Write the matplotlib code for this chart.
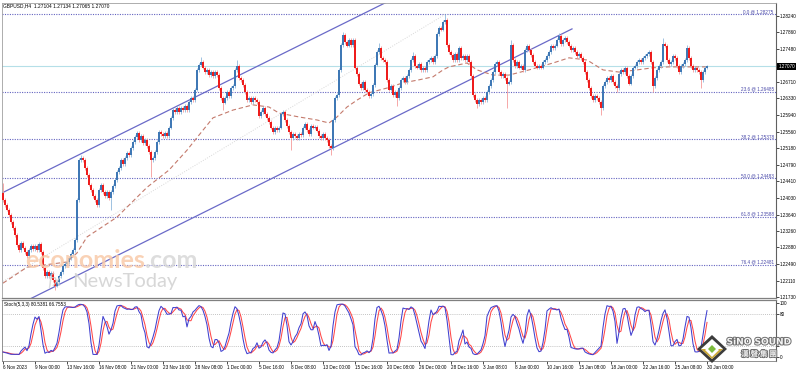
import numpy as np
import pandas as pd
import matplotlib
matplotlib.use("Agg")
import matplotlib.pyplot as plt
import matplotlib.transforms as mtransforms
import matplotlib.patheffects as pe
from matplotlib.patches import Polygon

# ---------------- data ----------------
symbol_title = "GBPUSD,H4  1.27104 1.27134 1.27065 1.27070"
stoch_title = "Stoch(5,3,3) 80.5381 66.7553"

first_open = 1.2415
closes = [
    1.2398, 1.2386, 1.2375, 1.2363, 1.2347, 1.2333, 1.2317, 1.2293, 1.2282, 1.2298,
    1.2287, 1.2277, 1.2268, 1.2282, 1.2291, 1.2284, 1.2291, 1.2282, 1.2296, 1.2277,
    1.2240, 1.2222, 1.2231, 1.2222, 1.2229, 1.2212, 1.2199, 1.2208, 1.2222, 1.2231,
    1.2245, 1.2249, 1.2254, 1.2263, 1.2273, 1.2282, 1.2305, 1.2398, 1.2490, 1.2495,
    1.2490, 1.2472, 1.2456, 1.2433, 1.2421, 1.2407, 1.2398, 1.2386, 1.2421, 1.2433,
    1.2416, 1.2407, 1.2416, 1.2402, 1.2416, 1.2430, 1.2444, 1.2463, 1.2472, 1.2490,
    1.2481, 1.2495, 1.2507, 1.2502, 1.2518, 1.2532, 1.2544, 1.2553, 1.2537, 1.2546,
    1.2530, 1.2537, 1.2523, 1.2509, 1.2490, 1.2495, 1.2509, 1.2532, 1.2555, 1.2551,
    1.2546, 1.2553, 1.2546, 1.2565, 1.2588, 1.2606, 1.2602, 1.2611, 1.2602, 1.2611,
    1.2606, 1.2616, 1.2606, 1.2625, 1.2634, 1.2629, 1.2653, 1.2699, 1.2711, 1.2717,
    1.2704, 1.2694, 1.2699, 1.2687, 1.2694, 1.2685, 1.2694, 1.2687, 1.2657, 1.2634,
    1.2623, 1.2634, 1.2648, 1.2639, 1.2657, 1.2662, 1.2699, 1.2708, 1.2680, 1.2676,
    1.2664, 1.2648, 1.2629, 1.2634, 1.2625, 1.2634, 1.2629, 1.2625, 1.2592, 1.2602,
    1.2611, 1.2597, 1.2588, 1.2578, 1.2565, 1.2555, 1.2565, 1.2560, 1.2565, 1.2597,
    1.2602, 1.2583, 1.2569, 1.2555, 1.2541, 1.2551, 1.2546, 1.2541, 1.2551, 1.2548,
    1.2565, 1.2574, 1.2560, 1.2551, 1.2569, 1.2565, 1.2567, 1.2558, 1.2546, 1.2541,
    1.2551, 1.2541, 1.2537, 1.2523, 1.2518, 1.2583, 1.2634, 1.2641, 1.2699, 1.2757,
    1.2780, 1.2764, 1.2755, 1.2768, 1.2757, 1.2768, 1.2704, 1.2690, 1.2667, 1.2657,
    1.2671, 1.2653, 1.2648, 1.2639, 1.2643, 1.2664, 1.2711, 1.2741, 1.2750, 1.2727,
    1.2722, 1.2717, 1.2676, 1.2653, 1.2662, 1.2641, 1.2648, 1.2634, 1.2657, 1.2676,
    1.2680, 1.2671, 1.2685, 1.2699, 1.2722, 1.2731, 1.2708, 1.2704, 1.2713, 1.2699,
    1.2704, 1.2699, 1.2717, 1.2722, 1.2727, 1.2717, 1.2731, 1.2782, 1.2796, 1.2792,
    1.2810, 1.2815, 1.2757, 1.2741, 1.2734, 1.2722, 1.2736, 1.2722, 1.2750, 1.2727,
    1.2731, 1.2722, 1.2731, 1.2717, 1.2685, 1.2641, 1.2629, 1.2620, 1.2629, 1.2625,
    1.2634, 1.2629, 1.2648, 1.2662, 1.2676, 1.2694, 1.2713, 1.2717, 1.2694, 1.2685,
    1.2690, 1.2680, 1.2667, 1.2671, 1.2757, 1.2722, 1.2708, 1.2717, 1.2704, 1.2708,
    1.2699, 1.2745, 1.2755, 1.2745, 1.2734, 1.2717, 1.2708, 1.2704, 1.2708, 1.2704,
    1.2717, 1.2722, 1.2731, 1.2741, 1.2755, 1.2750, 1.2755, 1.2768, 1.2778, 1.2759,
    1.2768, 1.2773, 1.2764, 1.2755, 1.2745, 1.2750, 1.2741, 1.2731, 1.2736, 1.2727,
    1.2717, 1.2694, 1.2676, 1.2657, 1.2639, 1.2629, 1.2639, 1.2634, 1.2625, 1.2611,
    1.2662, 1.2671, 1.2680, 1.2676, 1.2685, 1.2671, 1.2662, 1.2657, 1.2690, 1.2699,
    1.2694, 1.2704, 1.2685, 1.2667, 1.2685, 1.2704, 1.2708, 1.2717, 1.2722, 1.2717,
    1.2727, 1.2731, 1.2736, 1.2741, 1.2717, 1.2662, 1.2680, 1.2699, 1.2708, 1.2717,
    1.2759, 1.2755, 1.2722, 1.2713, 1.2717, 1.2731, 1.2727, 1.2708, 1.2694, 1.2708,
    1.2713, 1.2722, 1.2750, 1.2727, 1.2708, 1.2699, 1.2704, 1.2699, 1.2694, 1.2676,
    1.2694, 1.2704, 1.2707,
]
# bars whose wicks stand out
long_highs = {0: 1.2437, 39: 1.2502, 99: 1.2729, 117: 1.2722, 170: 1.2787,
              188: 1.2761, 205: 1.2741, 221: 1.28275, 254: 1.2768, 278: 1.2785,
              330: 1.2773, 342: 1.2757}
long_lows = {26: 1.2189, 54: 1.2375, 74: 1.2451, 110: 1.2606, 144: 1.2514,
             164: 1.2502, 197: 1.2616, 237: 1.2611, 252: 1.2611, 299: 1.2595,
             307: 1.2648, 325: 1.2648, 349: 1.2657}
WICK = 0.0004

# dashed moving average traced (bar index, value)
ma_bars = [0, 12, 32, 37, 42, 57, 72, 83, 92, 98, 105, 115, 125, 133, 138, 148,
           157, 163, 167, 172, 177, 183, 192, 200, 208, 215, 220, 223, 232, 237,
           245, 253, 263, 275, 283, 292, 300, 308, 317, 325, 333, 342, 352]
ma_values = [1.2205, 1.2242, 1.2254, 1.2275, 1.2312, 1.2358, 1.2427, 1.2467, 1.2513,
             1.2548, 1.2588, 1.2606, 1.2618, 1.2613, 1.2599, 1.2590, 1.2583, 1.2576,
             1.2590, 1.2613, 1.2629, 1.2646, 1.2657, 1.2669, 1.2676, 1.2683, 1.2699,
             1.2706, 1.2715, 1.2699, 1.2687, 1.2687, 1.2699, 1.2715, 1.2727, 1.2722,
             1.2699, 1.2694, 1.2699, 1.2704, 1.2706, 1.2706, 1.2706]

time_labels = ["6 Nov 2023", "9 Nov 00:00", "13 Nov 16:00", "16 Nov 08:00",
               "21 Nov 00:00", "23 Nov 16:00", "28 Nov 08:00", "1 Dec 00:00",
               "5 Dec 16:00", "8 Dec 08:00", "13 Dec 00:00", "15 Dec 16:00",
               "20 Dec 08:00", "26 Dec 00:00", "28 Dec 16:00", "3 Jan 08:00",
               "8 Jan 00:00", "10 Jan 16:00", "15 Jan 08:00", "18 Jan 00:00",
               "22 Jan 16:00", "25 Jan 08:00", "30 Jan 00:00"]
BARS_PER_LABEL = 16

price_ticks = [1.28240, 1.27860, 1.27480, 1.26710, 1.26330, 1.25940, 1.25560,
               1.25180, 1.24790, 1.24410, 1.24030, 1.23640, 1.23260, 1.22880,
               1.22490, 1.22110, 1.21730]
current_price = 1.27070

fib_names = ["0.0", "23.6", "38.2", "50.0", "61.8", "76.4"]
fib_prices = [1.28275, 1.26485, 1.25378, 1.24483, 1.23588, 1.22481]
fib_anchor_bars = [-50, 221]
fib_anchor_prices = [1.20691, 1.28275]

# equidistant channel (bar, price) points
channel_upper = ([-0.5, 284.5], [1.2414, 1.3069])
channel_lower = ([-0.5, 284.5], [1.2136, 1.2794])

stoch_levels = [20, 80]
stoch_ticks = [100, 80, 20, 0]
stoch_tick_labels = ["100", "80", "", "0"]   # the 20 label is hidden by the logo

# ---------------- derived OHLC & stochastic ----------------
n = len(closes)
opens = [first_open] + closes[:-1]
highs = [long_highs.get(i, max(opens[i], closes[i]) + WICK) for i in range(n)]
lows = [long_lows.get(i, min(opens[i], closes[i]) - WICK) for i in range(n)]
xs = np.arange(n)

c = pd.Series(closes)
hh = pd.Series(highs).rolling(5, min_periods=1).max()
ll = pd.Series(lows).rolling(5, min_periods=1).min()
num = (c - ll).rolling(3, min_periods=1).sum()
den = (hh - ll).rolling(3, min_periods=1).sum()
stoch_k = 100 * num / den
stoch_d = stoch_k.rolling(3, min_periods=1).mean()

# ---------------- figure ----------------
W, H = 798, 371
fig = plt.figure(figsize=(W / 100, H / 100), dpi=100)
fig.patch.set_facecolor("white")

def fx(px):
    return px / W

def fy(py):
    return 1 - py / H

ax = fig.add_axes([fx(2), fy(298), fx(776) - fx(2), fy(3) - fy(298)])
ax2 = fig.add_axes([fx(2), fy(361), fx(776) - fx(2), fy(300) - fy(361)])

XMIN, XMAX = -0.5, 386.5
ax.set_xlim(XMIN, XMAX)
ax.set_ylim(1.21706, 1.28540)
ax2.set_xlim(XMIN, XMAX)
ax2.set_ylim(-7.4, 105.6)

FS = 3.3
FONT = "Liberation Sans"
UP, UPW = "#3f78b5", "#8fb8dc"
DN, DNW = "#ee1c1c", "#f59a9a"
blend = mtransforms.blended_transform_factory(ax.transAxes, ax.transData)

# fib levels
for name, p in zip(fib_names, fib_prices):
    ax.axhline(p, color="#6464c0", lw=0.8, ls=(0, (1, 1.2)), zorder=1)
    ax.text(0.997, p, f"{name} @ {p:.5f}", transform=blend,
            ha="right", va="bottom", fontsize=FS, color="#4848a8", family=FONT)
ax.plot(fib_anchor_bars, fib_anchor_prices, color="#d8d8d8", lw=0.7, ls=(0, (1, 1.5)), zorder=1)

# bid line
ax.axhline(current_price, color="#b5dfe8", lw=0.8, zorder=1)

# channel
ax.plot(*channel_upper, color="#6a6ac8", lw=0.9, zorder=2)
ax.plot(*channel_lower, color="#6a6ac8", lw=0.9, zorder=2)

# moving average
ax.plot(ma_bars, ma_values, color="#c47a6c", lw=0.8, ls=(0, (4, 2.5)), zorder=2)

# candles
up = np.array(closes) >= np.array(opens)
wick_cols = [UPW if u else DNW for u in up]
body_cols = [UP if u else DN for u in up]
ax.vlines(xs, lows, highs, colors=wick_cols, lw=0.6, zorder=3)
bottoms = np.minimum(opens, closes)
heights = np.maximum(np.abs(np.array(closes) - np.array(opens)), 0.00008)
ax.bar(xs, heights, bottom=bottoms, width=0.75, color=body_cols, lw=0, zorder=4)

# axes styling main
ax.yaxis.tick_right()
ax.set_yticks(price_ticks)
ax.set_yticklabels([f"{p:.5f}" for p in price_ticks], fontsize=FS, family=FONT)
ax.tick_params(axis="y", length=2, width=0.5, pad=1, colors="#000000")
ax.set_xticks([])
for s in ["left", "top"]:
    ax.spines[s].set_color("#a0a0a0")
    ax.spines[s].set_linewidth(0.6)
ax.spines["right"].set_color("#606060")
ax.spines["right"].set_linewidth(0.8)
ax.spines["bottom"].set_color("#808080")
ax.spines["bottom"].set_linewidth(0.9)

# current price tag
ax.text(1.003, current_price, f"{current_price:.5f}", transform=blend,
        ha="left", va="center", fontsize=FS, color="white", family=FONT, clip_on=False,
        bbox=dict(boxstyle="square,pad=0.25", fc="black", ec="black", lw=0))

# title
fig.text(fx(3), fy(6), symbol_title, fontsize=3.5, family=FONT, va="center", ha="left", color="#000000")

# stochastic
for lv in stoch_levels:
    ax2.axhline(lv, color="#b0b0b0", lw=0.6, ls=(0, (1, 1.5)), zorder=1)
ax2.plot(xs, stoch_d, color="#ff4848", lw=0.75, zorder=2)
ax2.plot(xs, stoch_k, color="#4040d0", lw=0.75, zorder=3)
ax2.text(0.003, 0.96, stoch_title, transform=ax2.transAxes, fontsize=FS, family=FONT, va="top", ha="left")
ax2.yaxis.tick_right()
ax2.set_yticks(stoch_ticks)
ax2.set_yticklabels(stoch_tick_labels, fontsize=FS, family=FONT)
ax2.tick_params(axis="y", length=2, width=0.5, pad=1)
ax2.set_xticks([BARS_PER_LABEL * i for i in range(len(time_labels))])
ax2.set_xticklabels(time_labels, fontsize=FS, family=FONT, ha="left")
ax2.tick_params(axis="x", length=2, width=0.5, pad=1)
for s in ["left", "bottom"]:
    ax2.spines[s].set_color("#808080")
    ax2.spines[s].set_linewidth(0.6)
ax2.spines["top"].set_color("#808080")
ax2.spines["top"].set_linewidth(0.9)
ax2.spines["right"].set_color("#606060")
ax2.spines["right"].set_linewidth(0.8)

# watermark economies.com / NewsToday
t1 = fig.text(fx(25), fy(261), "economies", fontsize=18, family="Lato", weight="bold",
              color="#f9caa9", va="center", ha="left", alpha=0.85, zorder=10)
fig.canvas.draw()
bb = t1.get_window_extent()
fig.text(bb.x1 / W, fy(261), ".com", fontsize=18, family="Lato", weight="bold", color="#d8d8d8",
         va="center", ha="left", alpha=0.85, zorder=10)
fig.text(fx(47), fy(281), "fx", fontsize=13, family="Lato", color="#d2d2d2", style="italic",
         va="center", ha="left", alpha=0.8, zorder=10)
fig.text(fx(72), fy(281), "NewsToday", fontsize=14.5, family="Lato", color="#d0d0d0",
         va="center", ha="left", alpha=0.85, zorder=10)

# SINO SOUND logo
def poly(pts, **kw):
    fig.patches.append(Polygon([(fx(x), fy(y)) for x, y in pts], closed=True,
                               transform=fig.transFigure, figure=fig, **kw))

cx, cy = 712, 349
poly([(cx, cy - 14), (cx + 15, cy), (cx, cy + 14), (cx - 15, cy)], fc="#3c3c3c", ec="none", zorder=20)
poly([(cx, cy - 10), (cx + 11, cy), (cx, cy + 10), (cx - 11, cy)], fc="#ffffff", ec="none", zorder=21)
poly([(cx - 11, cy), (cx + 11, cy), (cx, cy + 10)], fc="#c9a634", ec="none", zorder=22)
poly([(cx, cy - 6), (cx + 7, cy + 1), (cx, cy + 8), (cx - 7, cy + 1)], fc="#ffffff", ec="none", zorder=23)
poly([(cx, cy - 4), (cx + 4, cy), (cx, cy + 4), (cx - 4, cy)], fc="#7dbb3d", ec="none", zorder=24)
stroke = [pe.withStroke(linewidth=1.4, foreground="#6e6e6e")]
fig.text(fx(759), fy(342), "SiNO SOUND", fontsize=6.5, weight="bold", family="DejaVu Sans",
         color="#f4f4f4", ha="center", va="center", path_effects=stroke, zorder=25)
fig.text(fx(759), fy(354), "漢 聲 集 團", fontsize=5.5, weight="bold", family=["Noto Sans CJK TC", "DejaVu Sans"],
         color="#f4f4f4", ha="center", va="center", path_effects=stroke, zorder=25)

fig.savefig("out.png", dpi=100, facecolor="white")
